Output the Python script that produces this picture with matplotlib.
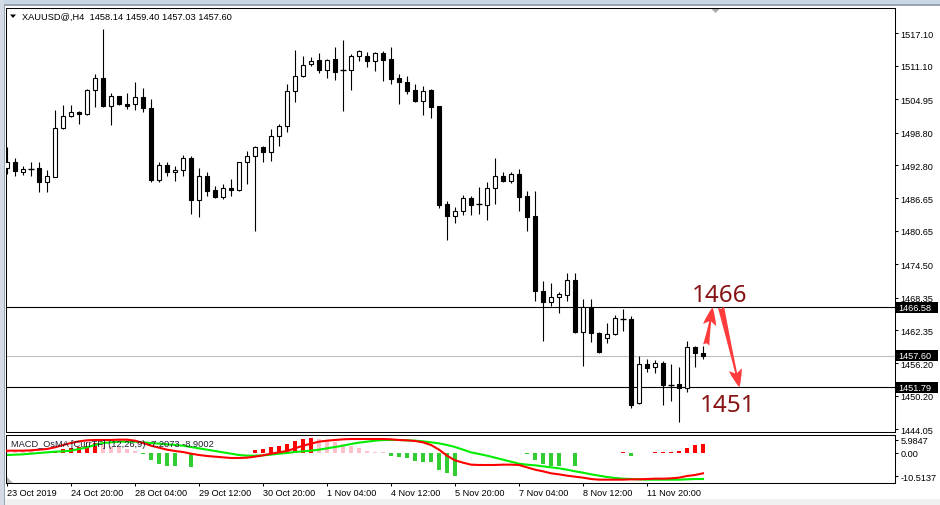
import matplotlib
matplotlib.use("Agg")
import matplotlib.pyplot as plt
import numpy as np
from matplotlib.patches import Rectangle, Polygon
from matplotlib.transforms import blended_transform_factory

plt.rcParams['font.family'] = ['Liberation Sans', 'DejaVu Sans']

# ---------------- data ----------------
symbol = "XAUUSD@,H4"
last_ohlc = [1458.14, 1459.40, 1457.03, 1457.60]

opens = [
    1492.20, 1493.31, 1491.57, 1492.07, 1492.20, 1489.62, 1490.65, 1499.58, 1501.79, 1502.53,
    1502.22, 1506.64, 1508.80, 1503.75, 1505.48, 1504.06, 1504.01, 1505.30, 1503.27, 1490.10,
    1492.81, 1491.57, 1491.94, 1494.04, 1486.41, 1490.72, 1488.20, 1486.85, 1488.51, 1488.25,
    1493.31, 1494.41, 1496.07, 1495.15, 1498.10, 1499.95, 1506.40, 1509.17, 1511.39, 1512.18,
    1510.39, 1512.36, 1510.28, 1510.28, 1512.86, 1512.86, 1511.94, 1513.41, 1512.36, 1508.80,
    1508.06, 1506.64, 1504.67, 1506.64, 1503.64, 1485.61, 1483.46, 1484.27, 1486.67, 1485.61,
    1485.48, 1488.51, 1490.72, 1489.91, 1491.15, 1487.03, 1483.34, 1469.51, 1467.48, 1468.40,
    1468.88, 1471.59, 1462.06, 1466.56, 1461.81, 1460.84, 1461.63, 1464.41, 1464.41, 1448.85,
    1456.10, 1455.49, 1456.28, 1452.28, 1452.41, 1451.62, 1459.18, 1458.14]
highs = [
    1496.07, 1494.04, 1492.57, 1493.31, 1493.31, 1491.83, 1502.95, 1503.88, 1503.88, 1502.71,
    1506.83, 1509.60, 1517.90, 1506.03, 1505.59, 1506.03, 1508.06, 1506.96, 1504.98, 1493.31,
    1493.31, 1492.68, 1494.65, 1494.52, 1492.20, 1491.46, 1488.88, 1489.30, 1490.23, 1493.40,
    1495.45, 1496.37, 1496.37, 1499.45, 1500.37, 1507.75, 1514.02, 1512.97, 1512.68, 1513.47,
    1512.36, 1514.52, 1515.87, 1513.28, 1514.08, 1513.60, 1513.60, 1513.78, 1514.52, 1509.60,
    1509.28, 1507.75, 1507.33, 1506.83, 1503.64, 1486.22, 1485.00, 1487.27, 1487.15, 1488.69,
    1489.73, 1494.04, 1491.46, 1491.57, 1492.07, 1487.96, 1487.96, 1471.35, 1470.98, 1469.44,
    1472.88, 1472.88, 1468.09, 1468.09, 1462.06, 1463.66, 1465.14, 1466.25, 1465.01, 1457.63,
    1457.02, 1456.89, 1456.60, 1456.10, 1455.49, 1460.40, 1459.48, 1459.40]
lows = [
    1491.15, 1490.83, 1490.96, 1490.72, 1487.77, 1487.88, 1490.54, 1499.45, 1501.61, 1500.37,
    1502.03, 1503.56, 1503.45, 1500.24, 1503.88, 1503.14, 1503.01, 1502.64, 1489.73, 1489.73,
    1490.72, 1489.91, 1490.72, 1483.77, 1483.16, 1487.15, 1486.72, 1486.54, 1487.03, 1488.07,
    1489.30, 1480.69, 1493.42, 1493.60, 1496.26, 1498.84, 1504.37, 1508.99, 1511.01, 1509.78,
    1508.86, 1508.54, 1502.82, 1506.70, 1511.94, 1510.83, 1510.20, 1508.36, 1507.75, 1504.06,
    1505.91, 1504.49, 1502.03, 1501.48, 1484.88, 1479.03, 1482.11, 1483.64, 1483.64, 1483.77,
    1482.72, 1485.61, 1489.62, 1489.49, 1484.38, 1480.69, 1467.78, 1460.40, 1466.85, 1465.45,
    1467.78, 1461.82, 1455.79, 1460.21, 1458.13, 1459.92, 1461.45, 1462.24, 1447.93, 1448.72,
    1454.68, 1454.44, 1448.59, 1449.33, 1445.34, 1450.88, 1455.49, 1457.03]
closes = [
    1493.31, 1491.65, 1492.07, 1492.03, 1489.62, 1490.72, 1499.58, 1501.79, 1502.53, 1502.27,
    1506.64, 1508.80, 1503.75, 1505.48, 1504.06, 1503.75, 1505.30, 1503.27, 1490.04, 1492.81,
    1491.57, 1491.94, 1494.04, 1486.41, 1490.72, 1488.07, 1486.85, 1488.51, 1488.25, 1493.31,
    1494.41, 1496.07, 1495.15, 1498.10, 1499.95, 1506.40, 1509.17, 1511.26, 1512.05, 1510.39,
    1512.18, 1510.02, 1510.26, 1512.86, 1513.78, 1511.94, 1513.41, 1512.23, 1508.67, 1508.06,
    1506.51, 1504.67, 1506.40, 1503.56, 1485.48, 1483.46, 1484.27, 1486.67, 1485.48, 1485.59,
    1488.51, 1490.72, 1489.91, 1491.15, 1486.96, 1483.27, 1469.51, 1467.59, 1468.40, 1469.01,
    1471.59, 1461.95, 1466.56, 1461.76, 1458.26, 1461.63, 1464.53, 1464.39, 1448.59, 1456.10,
    1455.36, 1456.23, 1452.28, 1452.26, 1451.62, 1459.18, 1458.07, 1457.60]

date_labels = ["23 Oct 2019", "24 Oct 20:00", "28 Oct 04:00", "29 Oct 12:00",
               "30 Oct 20:00", "1 Nov 04:00", "4 Nov 12:00", "5 Nov 20:00",
               "7 Nov 04:00", "8 Nov 12:00", "11 Nov 20:00"]
date_label_bars = [0, 8, 16, 24, 32, 40, 48, 56, 64, 72, 80]

price_ticks = [1517.10, 1511.10, 1504.95, 1498.80, 1492.80, 1486.65, 1480.65,
               1474.50, 1468.35, 1462.35, 1456.20, 1450.20, 1444.05]
levels = [1466.58, 1451.79]
last_price = 1457.60
targets = ["1466", "1451"]

macd_name = "MACD_OsMA [CurrTF] (12,26,9)"
macd_values_text = "-7.2073 -8.9002"
macd_main = [
    1.06, 1.06, 1.06, 1.21, 1.52, 1.82, 2.58, 3.64, 4.55, 5.30,
    5.76, 5.91, 5.91, 5.91, 6.06, 6.06, 5.61, 4.55, 3.33, 2.42,
    1.52, 0.91, 0.45, -0.30, -0.91, -1.36, -1.67, -1.97, -2.27, -2.27,
    -2.12, -1.67, -1.06, -0.30, 0.30, 0.91, 2.12, 3.33, 4.24, 5.15,
    5.61, 5.91, 6.21, 6.36, 6.36, 6.36, 6.36, 6.36, 6.21, 5.91,
    5.76, 5.45, 4.85, 3.64, 1.52, -1.21, -3.33, -4.39, -5.30, -5.45,
    -5.45, -5.45, -5.30, -5.30, -5.45, -6.52, -7.58, -8.33, -9.24, -9.70,
    -10.30, -10.76, -11.21, -11.82, -12.12, -12.12, -12.12, -12.12, -11.97, -11.97,
    -11.82, -11.67, -11.67, -11.52, -11.21, -10.45, -10.00, -9.24]
macd_signal = [
    -0.91, -0.76, -0.61, -0.30, 0.00, 0.30, 0.61, 0.76, 1.06, 1.82,
    2.58, 3.64, 4.55, 4.85, 5.15, 5.15, 5.15, 4.85, 4.55, 4.24,
    3.94, 3.64, 3.33, 2.73, 2.12, 1.52, 0.91, 0.30, -0.30, -0.91,
    -1.21, -1.21, -1.06, -0.76, -0.30, 0.00, 0.45, 0.76, 1.06, 1.52,
    2.12, 2.73, 3.33, 4.09, 4.70, 5.15, 5.61, 5.91, 5.91, 5.91,
    5.76, 5.61, 5.30, 4.85, 4.39, 3.64, 2.73, 1.52, 0.30, -0.45,
    -1.21, -2.12, -3.03, -3.94, -4.85, -5.30, -5.61, -6.06, -6.52, -6.97,
    -7.58, -8.33, -8.94, -9.70, -10.30, -10.91, -11.36, -11.67, -11.82, -11.97,
    -12.12, -12.12, -12.12, -12.12, -12.12, -11.97, -11.82, -11.82]
osma = [
    1.4, 1.2, 1.0, 0.8, 0.4, 0.6, 1.0, 1.6, 2.1, 2.6,
    3.3, 4.4, 4.1, 3.3, 2.6, 1.8, 1.0, -0.3, -3.0, -5.0,
    -5.8, -5.8, 0, -6.2, 0, 0, 0, 0, 0, 0,
    0, 1.4, 1.8, 2.6, 3.3, 4.1, 5.6, 6.4, 6.7, 6.4,
    5.6, 4.8, 4.1, 3.3, 2.1, 1.05, 0.6, 0.3, -1.2, -2.0,
    -2.4, -3.5, -3.9, -4.2, -7.6, -9.1, -10.3, 0, 0, 0,
    0, 0, 0, 0, 0, -0.3, -3.0, -5.0, -5.8, -5.8,
    0, -5.8, 0, 0, 0, 0, 0, 0.45, -1.5, 0,
    0, 0.45, 0.45, 0.45, 1.05, 2.1, 3.6, 4.1]
osma_ticks = [5.9847, 0.0, -10.5137]
osma_tick_labels = ["5.9847", "0.00", "-10.5137"]

# ---------------- figure ----------------
W, H = 940, 506
fig = plt.figure(figsize=(W / 100, H / 100), dpi=100)
fig.patch.set_facecolor('white')


def fx(px):
    return px / W


def fy(py):
    return 1 - py / H


# window frame decorations
fig.add_artist(Rectangle((0, fy(5)), 1, fy(0) - fy(5), transform=fig.transFigure,
                         facecolor='#c8d6e6', edgecolor='none'))
fig.add_artist(Rectangle((0, fy(6.5)), 1, fy(5) - fy(6.5), transform=fig.transFigure,
                         facecolor='#9aa4ae', edgecolor='none'))
fig.add_artist(Rectangle((0, 0), fx(3.5), 1, transform=fig.transFigure,
                         facecolor='#d3dbe4', edgecolor='none'))
fig.add_artist(Rectangle((fx(3.5), 0), fx(1.2), fy(6.5), transform=fig.transFigure,
                         facecolor='#9aa4ae', edgecolor='none'))
fig.add_artist(Rectangle((fx(4.7), 0), 1, fy(500), transform=fig.transFigure,
                         facecolor='#f0f0f0', edgecolor='none'))

ax = fig.add_axes([fx(6), fy(433), fx(895) - fx(6), fy(9) - fy(433)])
axm = fig.add_axes([fx(6), fy(484), fx(895) - fx(6), fy(435.7) - fy(484)])

n = len(opens)
xs = np.arange(n)
body_w = 0.5

# candles
for x, o, h, l, c in zip(xs, opens, highs, lows, closes):
    ax.vlines(x, l, h, colors='black', linewidth=0.8, zorder=2)
    if abs(c - o) < 0.06:
        ax.hlines(o, x - 0.32, x + 0.32, colors='black', linewidth=1.0, zorder=3)
    else:
        fc = 'white' if c > o else 'black'
        ax.add_patch(Rectangle((x - body_w / 2, min(o, c)), body_w, abs(c - o),
                               facecolor=fc, edgecolor='black', linewidth=0.8, zorder=3))

# level lines
for lv in levels:
    ax.axhline(lv, color='black', linewidth=0.8, zorder=1)
ax.axhline(last_price, color='#c0c0c0', linewidth=0.8, zorder=1)

ax.set_xlim(-0.125, 111.0)
ax.set_ylim(1443.55, 1521.77)
ax.yaxis.tick_right()
ax.set_yticks(price_ticks)
ax.set_yticklabels([f"{t:.2f}" for t in price_ticks])
ax.set_xticks([])
ax.tick_params(axis='y', direction='out', length=2.4, width=0.75, pad=1.5,
               labelsize=6.6, colors='black')
for s in ax.spines.values():
    s.set_linewidth(0.75)

# price boxes on the right scale
tr = blended_transform_factory(fig.transFigure, ax.transData)
for lv in [levels[0], last_price, levels[1]]:
    ax.add_patch(Rectangle((fx(896), lv - 1.0), fx(938) - fx(896), 2.0, transform=tr,
                           facecolor='black', edgecolor='none', clip_on=False, zorder=6))
    ax.text(fx(898.5), lv, f"{lv:.2f}", transform=tr, color='white', fontsize=6.6,
            va='center', ha='left', clip_on=False, zorder=7)

# arrows and target texts
arrow_style = 'fancy,head_length=13,head_width=9.5,tail_width=4.5'
ax.annotate('', xy=(88.2, levels[0]), xytext=(87.4, 1459.6),
            arrowprops=dict(arrowstyle=arrow_style, mutation_scale=1, color='#ff3b3b',
                            shrinkA=0, shrinkB=0, linewidth=0),
            annotation_clip=False, zorder=8)
ax.annotate('', xy=(91.55, levels[1]), xytext=(89.25, levels[0]),
            arrowprops=dict(arrowstyle=arrow_style, mutation_scale=1, color='#ff3b3b',
                            shrinkA=0, shrinkB=0, linewidth=0),
            annotation_clip=False, zorder=8)
ax.text(85.6, 1467.78, targets[0], fontsize=17.5, color='#861414', ha='left',
        va='baseline', family=['Noto Sans', 'DejaVu Sans'], zorder=8)
ax.text(86.6, 1447.37, targets[1], fontsize=17.5, color='#861414', ha='left',
        va='baseline', family=['Noto Sans', 'DejaVu Sans'], zorder=8)

# header
fig.text(fx(22), fy(17.2), f"{symbol}  " + " ".join(f"{v:.2f}" for v in last_ohlc),
         fontsize=6.7, va='center', ha='left', color='black')
fig.add_artist(Polygon([(fx(10), fy(15.5)), (fx(16), fy(15.5)), (fx(13), fy(19))],
                       closed=True, transform=fig.transFigure, facecolor='black',
                       edgecolor='none'))
# chart shift marker
fig.add_artist(Polygon([(fx(711.5), fy(10)), (fx(719.5), fy(10)), (fx(715.5), fy(14))],
                       closed=True, transform=fig.transFigure, facecolor='#a8a8a8',
                       edgecolor='none'))

# ---------------- MACD / OsMA panel ----------------
prev = float('inf')
bar_x, bar_h, bar_c = [], [], []
for x, v in zip(xs, osma):
    if v > 0:
        bar_x.append(x)
        bar_h.append(v)
        bar_c.append('#ff0000' if v >= prev else '#ffc0cb')
    elif v < 0:
        bar_x.append(x)
        bar_h.append(v)
        bar_c.append('#32cd32')
    prev = v
axm.bar(bar_x, bar_h, width=0.38, color=bar_c, zorder=1)
axm.plot(xs, macd_signal, color='#00ee00', linewidth=1.5, zorder=2,
         solid_joinstyle='miter')
axm.plot(xs, macd_main, color='#ff0000', linewidth=1.5, zorder=3,
         solid_joinstyle='miter')

axm.set_xlim(-0.125, 111.0)
axm.set_ylim(-13.64, 8.32)
axm.yaxis.tick_right()
axm.set_yticks(osma_ticks)
axm.set_yticklabels(osma_tick_labels)
axm.set_xticks(date_label_bars)
axm.set_xticklabels(date_labels, ha='left')
axm.tick_params(axis='y', direction='out', length=2.4, width=0.75, pad=1.5,
                labelsize=6.6, colors='black')
axm.tick_params(axis='x', direction='out', length=2.4, width=0.75, pad=1.5,
                labelsize=6.6, colors='black')
for s in axm.spines.values():
    s.set_linewidth(0.75)

fig.text(fx(11), fy(445), f"{macd_name} {macd_values_text}", fontsize=6.7,
         va='center', ha='left', color='#202030', zorder=10)
fig.add_artist(Polygon([(fx(7), fy(478)), (fx(7), fy(483.5)), (fx(12.5), fy(483.5))],
                       closed=True, transform=fig.transFigure, facecolor='#b4b4b4',
                       edgecolor='none'))

fig.savefig('out.png', dpi=100, facecolor=fig.get_facecolor())
